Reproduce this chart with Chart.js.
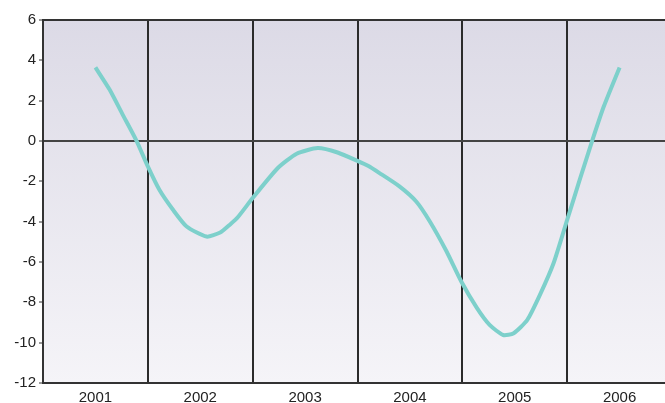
<!DOCTYPE html>
<html>
<head>
<meta charset="utf-8">
<script src="https://cdn.jsdelivr.net/npm/chart.js@4"></script>
<style>
  html, body { margin: 0; padding: 0; background: #fff; overflow: hidden; }
  #wrap { width: 680px; height: 403px; }
</style>
</head>
<body>
<div id="wrap"><canvas id="myChart"></canvas></div>
<script>
	// Kategorien und Werte
	var years = [2001, 2002, 2003, 2004, 2005, 2006]
	var xs = [2001.0, 2001.135, 2001.26, 2001.39, 2001.5, 2001.61, 2001.74, 2001.87, 2002.06, 2002.19,
	          2002.28, 2002.36, 2002.5, 2002.74, 2002.92, 2003.12, 2003.31, 2003.51, 2003.6, 2003.71,
	          2003.9, 2004.06, 2004.19, 2004.35, 2004.49, 2004.64, 2004.76, 2004.89, 2004.99, 2005.12,
	          2005.24, 2005.37, 2005.5, 2005.62, 2005.74, 2005.85, 2006.0]
	var ys = [3.65, 2.55, 1.31, 0.03, -1.26, -2.42, -3.41, -4.24, -4.74, -4.54,
	          -4.16, -3.77, -2.83, -1.34, -0.63, -0.35, -0.57, -1.01, -1.23, -1.59,
	          -2.25, -3.0, -3.99, -5.48, -6.97, -8.29, -9.12, -9.62, -9.53, -8.87,
	          -7.63, -6.06, -3.91, -1.92, 0.03, 1.72, 3.65]
	var yTicks = [-12, -10, -8, -6, -4, -2, 0, 2, 4, 6]

	var points = []
	for (var i = 0; i < xs.length; i++) {
		points.push({x: xs[i], y: ys[i]})
	}

	// Trennlinien zwischen den Jahren
	var xTicks = [years[0] - 0.5]
	for (var i = 0; i < years.length; i++) {
		xTicks.push(years[i])
		xTicks.push(years[i] + 0.5)
	}

	var bgPlugin = {
		id: 'bg',
		beforeDraw: function(chart) {
			var a = chart.chartArea
			var ctx = chart.ctx
			var g = ctx.createLinearGradient(0, a.top, 0, a.bottom)
			g.addColorStop(0, '#dcdae6')
			g.addColorStop(1, '#f5f4f8')
			ctx.save()
			ctx.fillStyle = g
			ctx.fillRect(a.left, a.top, a.right - a.left, a.bottom - a.top)
			ctx.restore()
		}
	}

	Chart.defaults.font.family = '"Liberation Sans", Arial, sans-serif'
	Chart.defaults.font.size = 15
	Chart.defaults.color = '#222'

	var ctx = document.getElementById('myChart').getContext('2d')
	var chart = new Chart(ctx, {
		type: 'scatter',
		data: {
			datasets: [{
				data: points,
				showLine: true,
				borderColor: '#7dd0cb',
				borderWidth: 4,
				pointRadius: 0,
				tension: 0.2,
				fill: false
			}]
		},
		options: {
			responsive: true,
			maintainAspectRatio: false,
			animation: false,
			layout: { padding: { top: 20, right: 8, left: 0, bottom: 0 } },
			plugins: { legend: { display: false }, tooltip: { enabled: false } },
			scales: {
				x: {
					type: 'linear',
					min: years[0] - 0.5,
					max: years[years.length - 1] + 0.5,
					afterBuildTicks: function(scale) {
						scale.ticks = xTicks.map(function(v) { return {value: v} })
					},
					afterFit: function(scale) { scale.height = 20 },
					ticks: {
						autoSkip: false,
						maxRotation: 0,
						padding: 6,
						callback: function(v) { return Number.isInteger(v) ? String(v) : '' }
					},
					grid: {
						drawTicks: false,
						lineWidth: 2,
						color: function(c) {
							return (c.tick && !Number.isInteger(c.tick.value)) ? '#2b2b2b' : 'rgba(0,0,0,0)'
						}
					},
					border: { display: true, color: '#333', width: 2 }
				},
				y: {
					min: -12,
					max: 6,
					afterBuildTicks: function(scale) {
						scale.ticks = yTicks.map(function(v) { return {value: v} })
					},
					afterFit: function(scale) { scale.width = 43 },
					ticks: { padding: 3 },
					grid: {
						drawTicks: true,
						tickLength: 4,
						tickColor: '#333',
						tickWidth: 1,
						lineWidth: 2,
						color: function(c) {
							if (!c.tick) return 'rgba(0,0,0,0)'
							if (c.tick.value === 0) return '#444'
							if (c.tick.value === 6) return '#333'
							return 'rgba(0,0,0,0)'
						}
					},
					border: { display: true, color: '#333', width: 2 }
				}
			}
		},
		plugins: [bgPlugin]
	})
</script>
</body>
</html>
